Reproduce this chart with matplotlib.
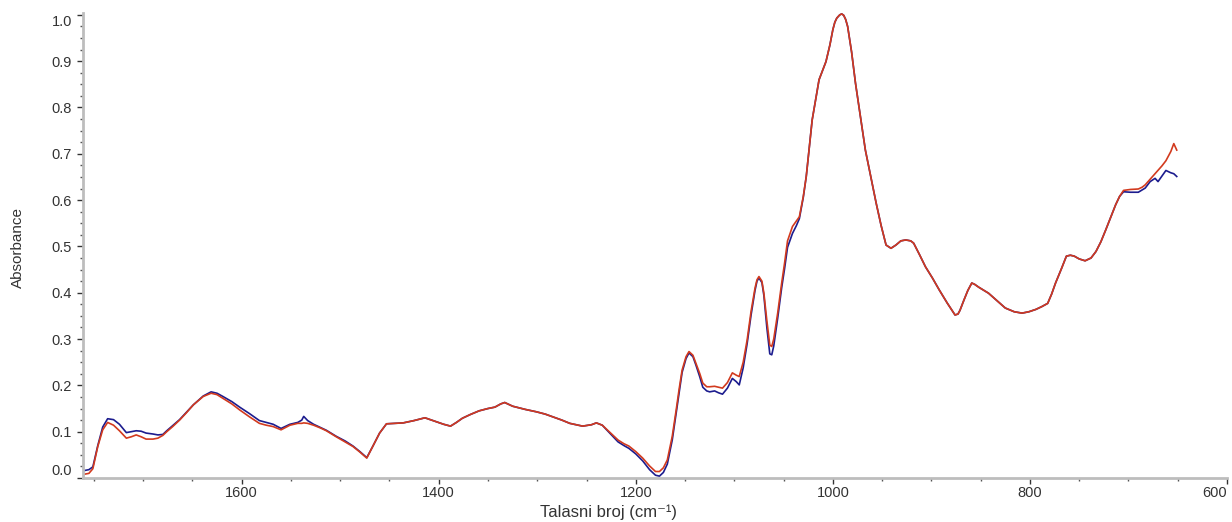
import numpy as np
import matplotlib.pyplot as plt
from matplotlib.ticker import MultipleLocator

plt.rcParams['font.family'] = ['Liberation Sans', 'DejaVu Sans']

# wavenumber (cm-1) and absorbance of the two spectra
wavenumber = [
    1760, 1755, 1751, 1746, 1741, 1736, 1730, 1724, 1717, 1712, 1707, 1702, 1697, 1690,
    1685, 1680, 1676, 1670, 1663, 1656, 1649, 1639, 1631, 1625, 1619, 1610, 1602, 1592,
    1582, 1575, 1568, 1560, 1551, 1543, 1539, 1537, 1533, 1527, 1520, 1514, 1504, 1495,
    1487, 1480, 1473, 1467, 1460, 1453, 1445, 1436, 1425, 1414, 1403, 1395, 1388, 1382,
    1376, 1368, 1359, 1350, 1343, 1337, 1333, 1325, 1312, 1301, 1292, 1284, 1275, 1267,
    1254, 1245, 1240, 1234, 1226, 1218, 1212, 1207, 1200, 1193, 1186, 1180, 1176, 1172,
    1168, 1163, 1159, 1156, 1153, 1149, 1146, 1142, 1139, 1135, 1132, 1128, 1125, 1120,
    1116, 1112, 1107, 1102, 1098, 1095, 1091, 1087, 1083, 1079, 1077, 1075, 1072, 1070, 1067,
    1064, 1062, 1060, 1056, 1052, 1049, 1046, 1041, 1037, 1034, 1030, 1027, 1024, 1021, 1017,
    1014, 1010, 1007, 1003, 1000, 998, 996, 993, 991, 989, 987, 985, 981, 977, 972, 967, 961,
    956, 951, 946, 941, 936, 931, 926, 921, 918, 912, 906, 899, 892, 884,
    879, 876, 873, 871, 867, 863, 859, 856, 852, 842, 834, 825, 816, 808, 801, 794, 788,
    782, 778, 774, 768, 763, 759, 755, 750, 744, 738, 733, 728, 723, 718,
    713, 709, 705, 698, 690, 686, 683, 678, 673, 670, 666, 662, 657, 654, 651,
]

abs_red = [
    0.008, 0.010, 0.020, 0.068, 0.104, 0.120, 0.114, 0.102, 0.086, 0.089, 0.093, 0.089, 0.084, 0.084,
    0.086, 0.092, 0.100, 0.111, 0.125, 0.141, 0.158, 0.176, 0.183, 0.180, 0.172, 0.160, 0.147, 0.132,
    0.118, 0.114, 0.111, 0.104, 0.114, 0.118, 0.118, 0.119, 0.118, 0.114, 0.108, 0.102, 0.089, 0.078,
    0.068, 0.056, 0.043, 0.068, 0.097, 0.117, 0.118, 0.119, 0.124, 0.130, 0.122, 0.116, 0.112, 0.120,
    0.129, 0.137, 0.145, 0.150, 0.153, 0.160, 0.163, 0.155, 0.148, 0.143, 0.138, 0.132, 0.125, 0.118,
    0.112, 0.115, 0.119, 0.114, 0.098, 0.082, 0.074, 0.069, 0.057, 0.043, 0.026, 0.014, 0.014, 0.022,
    0.039, 0.090, 0.147, 0.192, 0.233, 0.262, 0.273, 0.265, 0.248, 0.225, 0.205, 0.197, 0.197, 0.198,
    0.196, 0.194, 0.206, 0.227, 0.222, 0.219, 0.250, 0.298, 0.360, 0.410, 0.428, 0.435, 0.425, 0.399, 0.340,
    0.287, 0.284, 0.300, 0.356, 0.420, 0.464, 0.512, 0.543, 0.555, 0.564, 0.608, 0.651, 0.712, 0.773, 0.822,
    0.860, 0.882, 0.899, 0.935, 0.968, 0.984, 0.993, 1.000, 1.002, 0.999, 0.990, 0.975, 0.920, 0.852, 0.780, 0.708, 0.645,
    0.593, 0.545, 0.503, 0.496, 0.503, 0.512, 0.514, 0.512, 0.507, 0.482, 0.456, 0.432, 0.406, 0.378,
    0.362, 0.352, 0.354, 0.362, 0.384, 0.405, 0.421, 0.418, 0.412, 0.399, 0.384, 0.367, 0.359, 0.356, 0.359, 0.364, 0.370,
    0.377, 0.397, 0.421, 0.452, 0.479, 0.481, 0.479, 0.473, 0.469, 0.475, 0.489, 0.510, 0.536, 0.563,
    0.590, 0.608, 0.621, 0.623, 0.624, 0.628, 0.633, 0.645, 0.657, 0.664, 0.674, 0.685, 0.705, 0.722, 0.708,
]

abs_blue = [
    0.016, 0.018, 0.024, 0.070, 0.110, 0.128, 0.126, 0.116, 0.098, 0.100, 0.102, 0.101, 0.097, 0.095,
    0.093, 0.094, 0.102, 0.113, 0.126, 0.142, 0.158, 0.177, 0.186, 0.183, 0.176, 0.165, 0.153, 0.139,
    0.124, 0.120, 0.116, 0.107, 0.116, 0.120, 0.125, 0.133, 0.124, 0.116, 0.109, 0.103, 0.090, 0.080,
    0.069, 0.057, 0.044, 0.068, 0.097, 0.117, 0.118, 0.119, 0.124, 0.130, 0.122, 0.116, 0.112, 0.120,
    0.129, 0.137, 0.145, 0.150, 0.153, 0.160, 0.163, 0.155, 0.148, 0.143, 0.138, 0.132, 0.125, 0.118,
    0.112, 0.115, 0.119, 0.114, 0.096, 0.078, 0.070, 0.064, 0.052, 0.037, 0.018, 0.006, 0.004, 0.012,
    0.030, 0.082, 0.140, 0.185, 0.228, 0.258, 0.270, 0.262, 0.244, 0.218, 0.196, 0.188, 0.186, 0.188,
    0.184, 0.181, 0.194, 0.215, 0.208, 0.201, 0.238, 0.290, 0.352, 0.405, 0.425, 0.432, 0.422, 0.394, 0.325,
    0.268, 0.266, 0.285, 0.345, 0.410, 0.452, 0.498, 0.528, 0.545, 0.560, 0.606, 0.651, 0.712, 0.773, 0.822,
    0.860, 0.882, 0.899, 0.935, 0.968, 0.984, 0.993, 1.000, 1.002, 0.999, 0.990, 0.975, 0.920, 0.852, 0.780, 0.708, 0.645,
    0.593, 0.545, 0.503, 0.496, 0.503, 0.512, 0.514, 0.512, 0.507, 0.482, 0.456, 0.432, 0.406, 0.378,
    0.362, 0.352, 0.354, 0.362, 0.384, 0.405, 0.421, 0.418, 0.412, 0.399, 0.384, 0.367, 0.359, 0.356, 0.359, 0.364, 0.370,
    0.377, 0.397, 0.421, 0.452, 0.479, 0.481, 0.479, 0.473, 0.469, 0.475, 0.489, 0.510, 0.536, 0.563,
    0.590, 0.608, 0.618, 0.617, 0.617, 0.622, 0.626, 0.640, 0.647, 0.640, 0.652, 0.664, 0.659, 0.657, 0.651,
]

x_ticks = [1600, 1400, 1200, 1000, 800, 600]
y_ticks = [0.0, 0.1, 0.2, 0.3, 0.4, 0.5, 0.6, 0.7, 0.8, 0.9, 1.0]

fig = plt.figure(figsize=(12.32, 5.22), dpi=100)
ax = fig.add_axes([83 / 1232, 1 - 478 / 522, (1227 - 83) / 1232, (478 - 13) / 522])

ax.plot(wavenumber, abs_blue, color='#1c1c8e', lw=1.2, solid_joinstyle='round')
ax.plot(wavenumber, abs_red, color='#d23a1e', lw=1.2, solid_joinstyle='round')

ax.set_xlim(1761, 600)
ax.set_ylim(0.0, 1.004)

ax.set_xticks(x_ticks)
ax.set_yticks(y_ticks)
ax.set_yticklabels(['%.1f' % v for v in y_ticks])
ax.xaxis.set_minor_locator(MultipleLocator(50))
ax.yaxis.set_minor_locator(MultipleLocator(0.025))

for side in ['top', 'right']:
    ax.spines[side].set_visible(False)
for side in ['left', 'bottom']:
    ax.spines[side].set_color('#bdbdbd')
    ax.spines[side].set_linewidth(2)

ax.tick_params(which='major', length=4, width=1, color='#333333', labelcolor='#333333', labelsize=10.5)
ax.tick_params(which='minor', length=2.5, width=1, color='#555555')
ax.tick_params(axis='x', pad=2)
ax.tick_params(axis='y', pad=4)

# edge labels are pulled inside like in the instrument software
ylabels = ax.get_yticklabels()
ylabels[-1].set_va('top')
ylabels[0].set_va('bottom')
ax.get_xticklabels()[-1].set_ha('right')

fig.text(609 / 1232, 2 / 522, 'Talasni broj (cm\u207b\u00b9)', ha='center', va='bottom',
         fontsize=12, color='#333333')
fig.text(18 / 1232, 1 - 248 / 522, 'Absorbance', ha='center', va='center', rotation=90,
         fontsize=11, color='#333333')

fig.savefig('out.png', dpi=100, facecolor='white')
